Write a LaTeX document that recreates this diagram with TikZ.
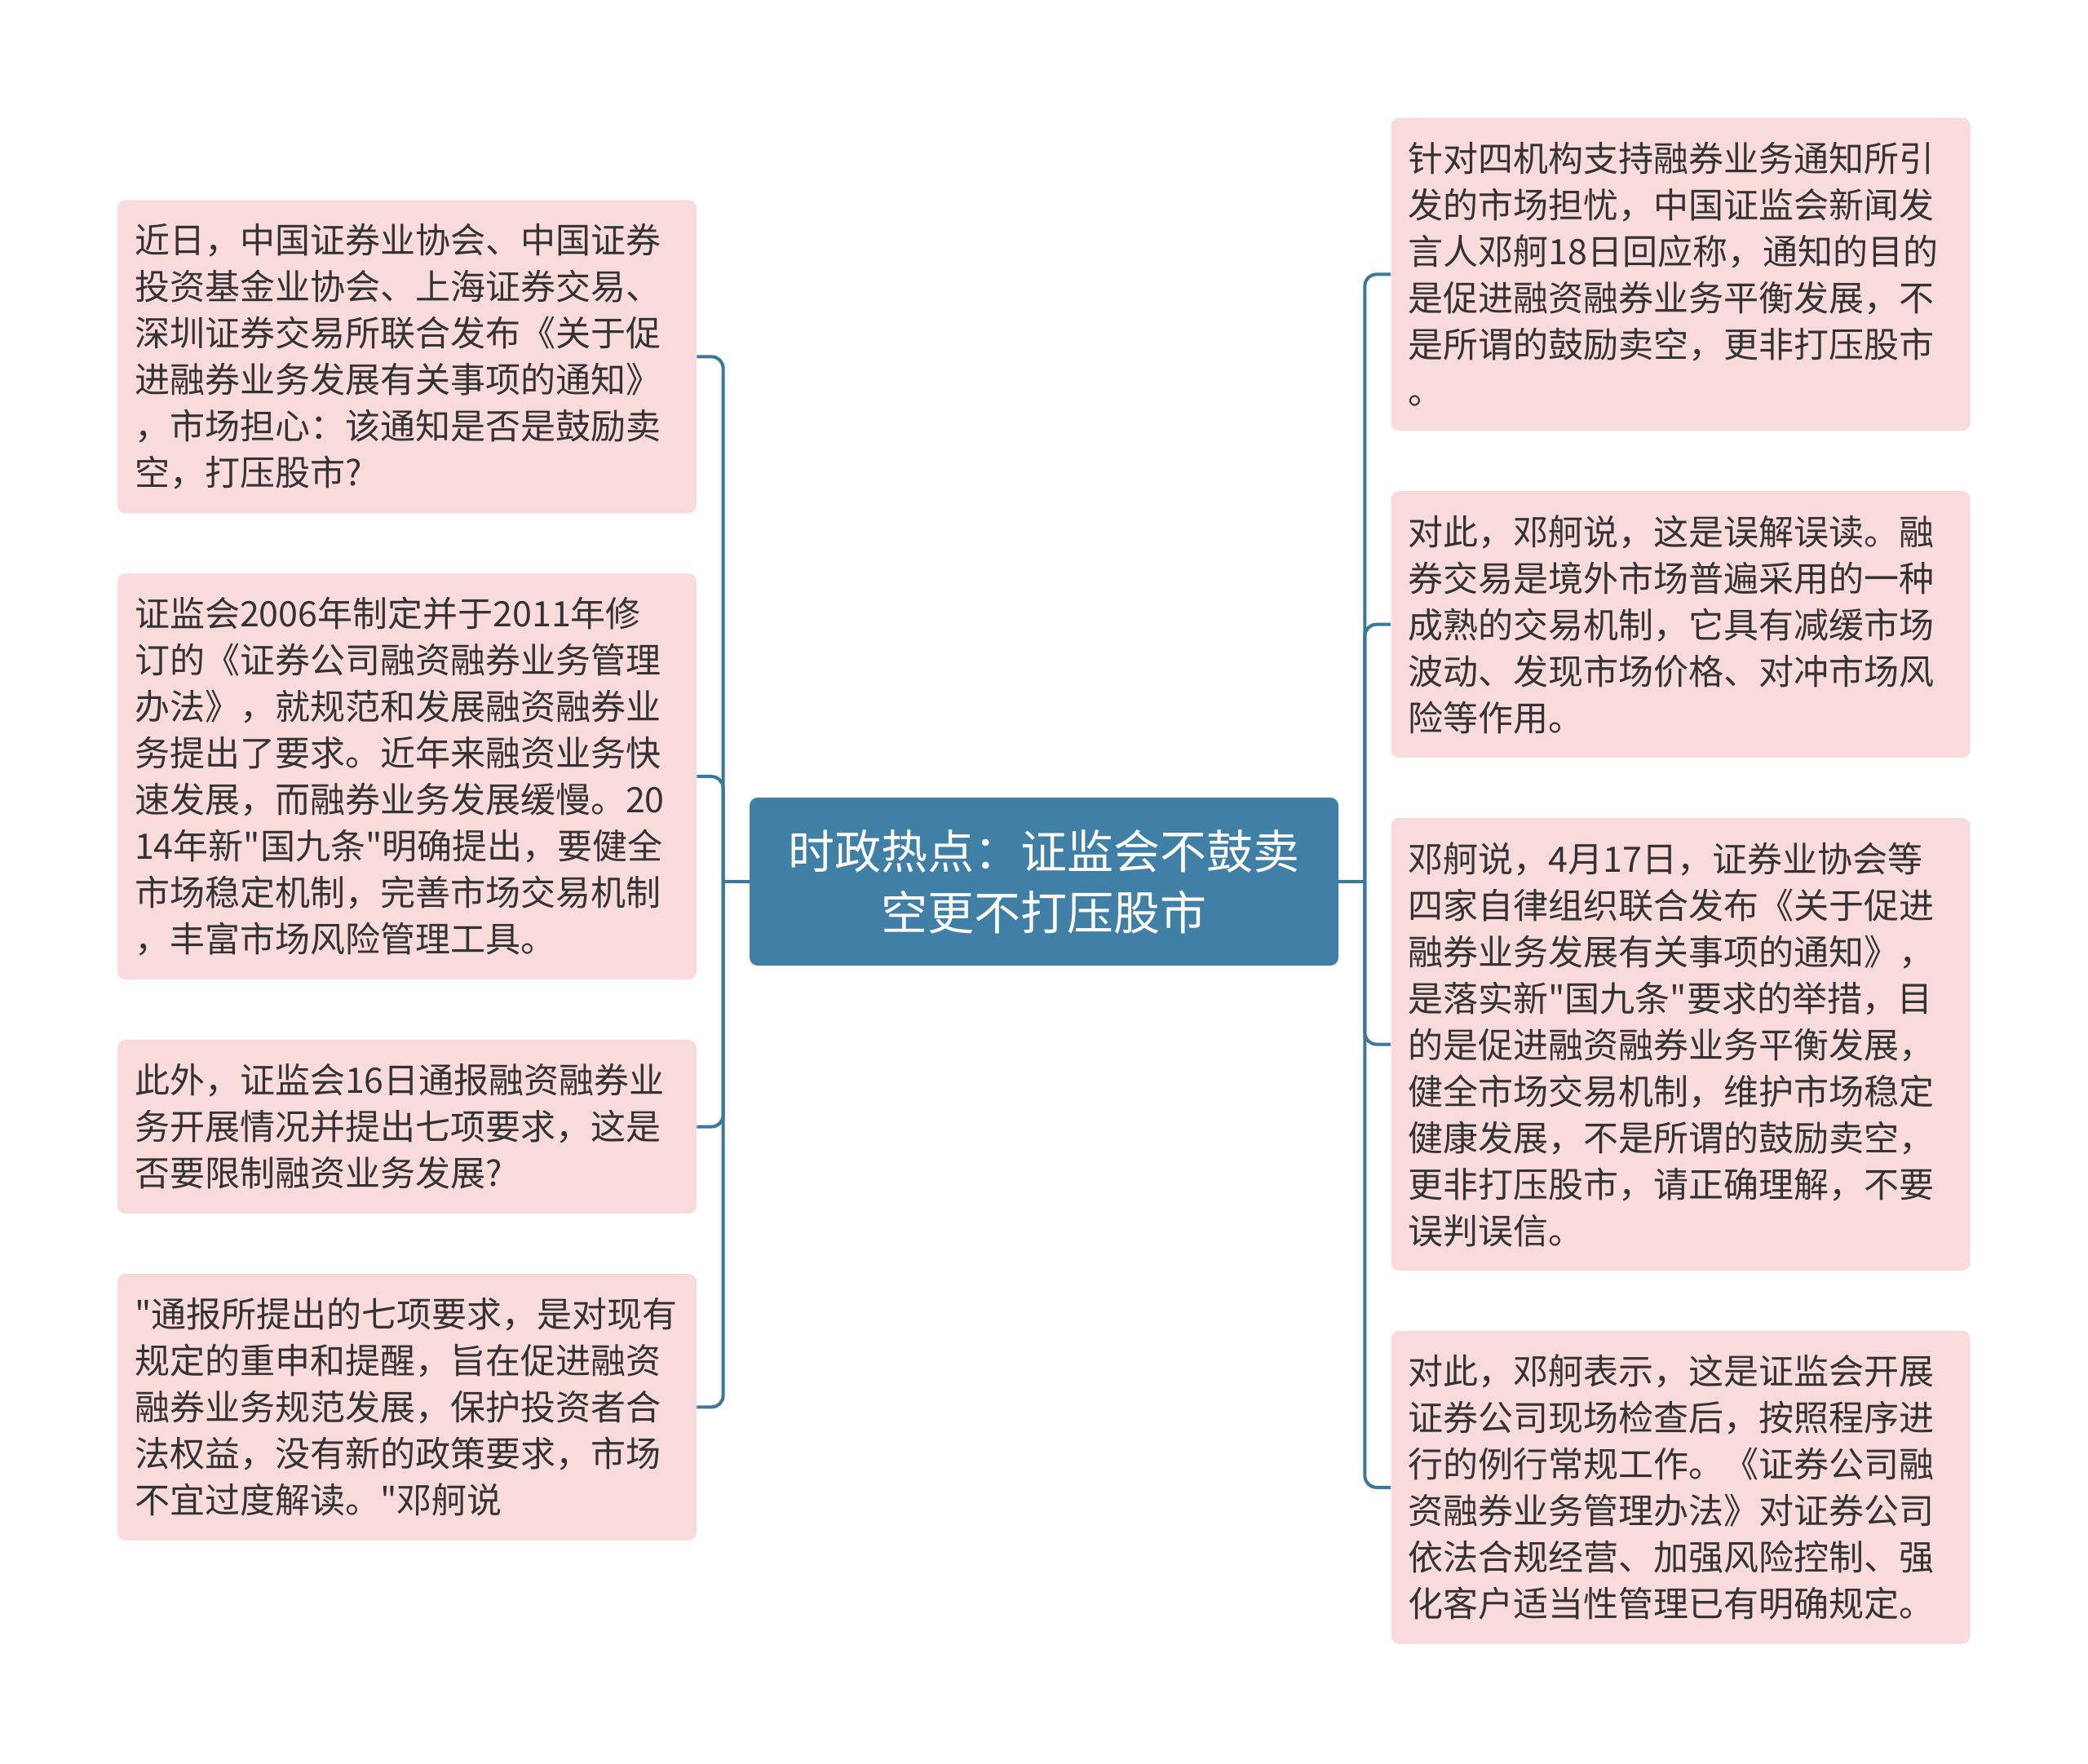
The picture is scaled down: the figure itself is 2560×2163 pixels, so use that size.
\documentclass[tikz,border=0pt]{standalone}
\usepackage{fontspec}
\newfontfamily\cjk{Noto Sans CJK SC}
\usepackage{xcolor}
\definecolor{mmBlue}{HTML}{4080A6}
\definecolor{mmLine}{HTML}{3B78A0}
\definecolor{mmPink}{HTML}{FADBDB}
\definecolor{mmInk}{HTML}{333333}
\usepackage{tikz}
\usetikzlibrary{positioning}

\begin{document}
\begin{tikzpicture}[x=0.5pt,y=-0.5pt,
      every node/.style={font=\cjk},
      topic/.style={rectangle,rounded corners=5pt,fill=mmBlue,text=white,
                    minimum width=361pt,minimum height=103pt,align=center,
                    font=\cjk\fontsize{28.5pt}{37.5pt}\selectfont},
      leaf/.style={rectangle,rounded corners=5pt,fill=mmPink,text=mmInk,
                   minimum width=355pt,minimum height=#1*28.5pt+21pt,
                   text width=334pt,inner xsep=10.5pt,inner ysep=0pt,align=left,
                   font=\cjk\fontsize{21.5pt}{28.5pt}\selectfont},
      link/.style={draw=mmLine,line width=2pt,rounded corners=7pt},
    ]
    \path[fill=white] (0,0) rectangle (2560,2163);
    \useasboundingbox (0,0) rectangle (2560,2163);

    % Node layout
    \node[topic] (root) at (1280,1081) {时政热点：证监会不鼓卖\\空更不打压股市};

    \node[leaf=6,anchor=north] (qNotice) at (499,245) {近日，中国证券业协会、中国证券\\投资基金业协会、上海证券交易、\\深圳证券交易所联合发布《关于促\\进融券业务发展有关事项的通知》\\，市场担心：该通知是否是鼓励卖\\空，打压股市?};
    \node[leaf=8,below=36.5pt of qNotice] (qRules) {证监会2006年制定并于2011年修\\订的《证券公司融资融券业务管理\\办法》，就规范和发展融资融券业\\务提出了要求。近年来融资业务快\\速发展，而融券业务发展缓慢。20\\14年新"国九条"明确提出，要健全\\市场稳定机制，完善市场交易机制\\，丰富市场风险管理工具。};
    \node[leaf=3,below=36.5pt of qRules] (qCheck) {此外，证监会16日通报融资融券业\\务开展情况并提出七项要求，这是\\否要限制融资业务发展?};
    \node[leaf=5,below=36.5pt of qCheck] (qQuote) {"通报所提出的七项要求，是对现有\\规定的重申和提醒，旨在促进融资\\融券业务规范发展，保护投资者合\\法权益，没有新的政策要求，市场\\不宜过度解读。"邓舸说};

    \node[leaf=6,anchor=north] (aAim) at (2060.5,144) {针对四机构支持融券业务通知所引\\发的市场担忧，中国证监会新闻发\\言人邓舸18日回应称，通知的目的\\是促进融资融券业务平衡发展，不\\是所谓的鼓励卖空，更非打压股市\\。};
    \node[leaf=5,below=36.5pt of aAim] (aMisread) {对此，邓舸说，这是误解误读。融\\券交易是境外市场普遍采用的一种\\成熟的交易机制，它具有减缓市场\\波动、发现市场价格、对冲市场风\\险等作用。};
    \node[leaf=9,below=36.5pt of aMisread] (aMeasure) {邓舸说，4月17日，证券业协会等\\四家自律组织联合发布《关于促进\\融券业务发展有关事项的通知》，\\是落实新"国九条"要求的举措，目\\的是促进融资融券业务平衡发展，\\健全市场交易机制，维护市场稳定\\健康发展，不是所谓的鼓励卖空，\\更非打压股市，请正确理解，不要\\误判误信。};
    \node[leaf=6,below=36.5pt of aMeasure] (aRoutine) {对此，邓舸表示，这是证监会开展\\证券公司现场检查后，按照程序进\\行的例行常规工作。《证券公司融\\资融券业务管理办法》对证券公司\\依法合规经营、加强风险控制、强\\化客户适当性管理已有明确规定。};

    \coordinate[left=16pt of root.west] (lHub);
    \coordinate[right=16pt of root.east] (rHub);

    % Connections
    \draw[link] (root.west) -- (lHub);
    \draw[link] (lHub) |- (qNotice.east);
    \draw[link] (lHub) |- (qRules.east);
    \draw[link] (lHub) |- (qCheck.east);
    \draw[link] (lHub) |- (qQuote.east);
    \draw[link] (root.east) -- (rHub);
    \draw[link] (rHub) |- (aAim.west);
    \draw[link] (rHub) |- (aMisread.west);
    \draw[link] (rHub) |- (aMeasure.west);
    \draw[link] (rHub) |- (aRoutine.west);

  \end{tikzpicture}
\end{document}
